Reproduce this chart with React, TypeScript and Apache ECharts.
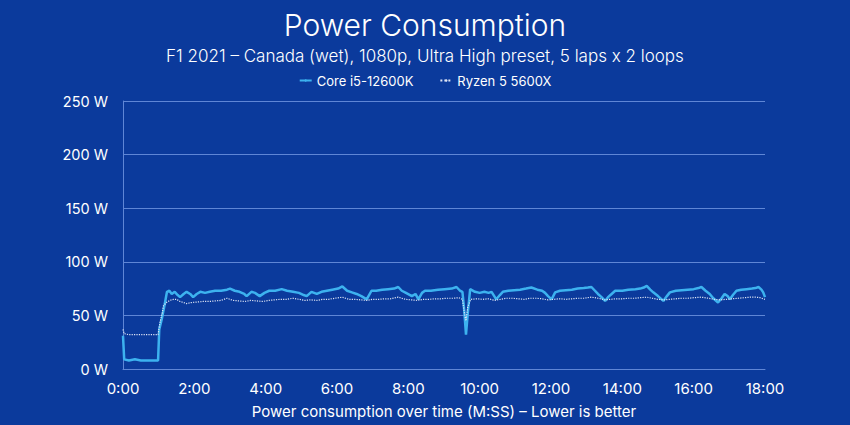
import React, { useEffect, useRef } from "react";
import * as echarts from "echarts";

const titleText = "Power Consumption";
const subtitleText = "F1 2021 – Canada (wet), 1080p, Ultra High preset, 5 laps x 2 loops";
const xAxisName = "Power consumption over time (M:SS) – Lower is better";
const seriesNames = ["Core i5-12600K", "Ryzen 5 5600X"];

// [seconds, watts]
const coreData: [number, number][] = [
  [0, 31], [2, 9], [10, 8], [20, 9], [30, 8], [45, 8], [59, 8], [61, 37], [65, 46], [70, 60],
  [74, 72], [78, 73], [82, 70], [87, 72], [92, 69], [96, 67], [102, 70], [107, 72], [113, 70], [118, 67],
  [124, 70], [130, 72], [138, 71], [146, 72], [155, 73], [165, 73], [175, 74], [180, 75], [188, 73], [196, 72],
  [204, 70], [208, 68], [216, 72], [222, 71], [230, 68], [238, 71], [246, 73], [256, 73], [267, 74.5], [276, 73],
  [286, 72], [296, 71], [304, 69], [309, 68], [317, 72], [326, 70], [334, 72], [343, 73], [352, 74], [362, 75],
  [369, 77], [377, 73], [385, 71.5], [393, 70], [401, 68], [410, 65], [418, 73], [426, 73], [436, 74], [446, 74.5],
  [456, 75], [463, 76.5], [469, 73], [476, 71], [486, 68], [492, 70], [497, 65], [503, 71], [508, 73], [518, 73],
  [530, 74], [541, 74.5], [553, 75], [561, 76.5], [567, 73], [571, 72], [574, 55], [577, 32], [580, 52], [584, 74.5],
  [592, 72], [600, 71], [608, 72], [615, 71], [620, 72], [628, 65], [634, 69], [639, 72], [648, 73], [658, 73.5],
  [668, 74], [678, 75], [687, 76], [697, 74], [705, 73], [710, 71], [715, 68], [721, 65], [727, 71.5], [735, 73],
  [745, 73.5], [755, 74], [765, 75], [775, 75.5], [782, 76], [788, 76.5], [794, 73], [799, 70], [805, 67], [811, 63.5],
  [816, 67], [822, 70], [828, 73], [840, 73], [850, 74], [862, 74.5], [870, 75], [876, 76], [881, 77.5], [887, 74],
  [892, 71.5], [900, 68], [909, 63.5], [915, 68], [920, 71.5], [930, 73], [940, 73.5], [950, 74], [960, 74.5], [968, 75.5],
  [973, 76.5], [980, 73], [987, 70], [993, 66], [1001, 62], [1007, 66], [1012, 70], [1017, 68], [1021, 65], [1026, 69],
  [1032, 73], [1040, 74], [1049, 74.5], [1058, 75], [1064, 75.5], [1069, 76.5], [1074, 74], [1077, 71.5], [1080, 67],
];

const ryzenData: [number, number][] = [
  [0, 37], [2, 33], [10, 32], [30, 32], [45, 32], [59, 32], [62, 43], [66, 52], [68, 59], [73, 62],
  [79, 64], [85, 65], [90, 65], [96, 63], [102, 62], [107, 61], [115, 62], [125, 62.5], [135, 63], [145, 63],
  [155, 63.5], [165, 64], [175, 66], [185, 64], [195, 63.5], [205, 63], [215, 64], [225, 63.5], [235, 63], [245, 64],
  [255, 64.5], [265, 65], [276, 65], [286, 66], [296, 65], [306, 64], [316, 64.5], [326, 64], [336, 65], [346, 65],
  [356, 66], [369, 67], [380, 65], [390, 65], [400, 64.5], [410, 64], [420, 65], [430, 65], [440, 65.5], [450, 65.5],
  [463, 67], [475, 65], [485, 64.5], [495, 64], [505, 65], [515, 65], [525, 65.5], [535, 65.5], [545, 66], [555, 66],
  [565, 66.5], [571, 65], [575, 50], [577, 45], [580, 58], [585, 65], [595, 65.5], [605, 65], [615, 65.5], [625, 64],
  [635, 65], [645, 66], [655, 66], [665, 65.5], [675, 65], [685, 66], [695, 66], [705, 65.5], [715, 64.5], [725, 65],
  [735, 65.5], [745, 65], [755, 65.5], [765, 66], [775, 66], [788, 67], [800, 66], [810, 64.5], [820, 65], [830, 65.5],
  [840, 65.5], [850, 66], [860, 66], [870, 66.5], [881, 67], [890, 66], [900, 65], [910, 64.5], [920, 65], [930, 65.5],
  [940, 66], [950, 66], [960, 66.5], [973, 67], [985, 66], [995, 65], [1005, 64.5], [1015, 65], [1025, 65.5], [1035, 66],
  [1045, 66.5], [1055, 67], [1065, 67], [1072, 66.5], [1080, 65],
];

const FONT = "Inter, 'Noto Sans', sans-serif";

export default function App() {
  const ref = useRef<HTMLDivElement>(null);
  useEffect(() => {
    if (!ref.current) return;
    document.body.style.margin = "0";
    const chart = echarts.init(ref.current, null, { renderer: "svg" });
    chart.setOption({
      animation: false,
      backgroundColor: "#0b3a9c",
      textStyle: { fontFamily: FONT },
      title: [
        {
          text: titleText,
          left: "center",
          top: 5,
          textStyle: { color: "#ffffff", fontSize: 30, fontWeight: 300, fontFamily: FONT },
        },
        {
          text: subtitleText,
          left: "center",
          top: 42,
          textStyle: { color: "#ffffff", fontSize: 17, fontWeight: 300, fontFamily: FONT },
        },
      ],
      legend: {
        top: 69,
        left: "center",
        itemWidth: 12,
        itemHeight: 3,
        itemGap: 26,
        textStyle: { color: "#ffffff", fontSize: 13, fontFamily: FONT },
        data: seriesNames,
      },
      grid: { left: 123, right: 85, top: 101, bottom: 56, containLabel: false },
      xAxis: {
        type: "value",
        min: 0,
        max: 1080,
        interval: 120,
        name: xAxisName,
        nameLocation: "middle",
        nameGap: 35,
        nameTextStyle: { color: "#ffffff", fontSize: 15, fontFamily: FONT },
        axisLine: { show: true, lineStyle: { color: "#5f86d6", width: 1 } },
        axisTick: { show: false },
        splitLine: { show: false },
        axisLabel: {
          color: "#ffffff",
          fontSize: 15,
          margin: 12,
          fontFamily: FONT,
          formatter: (v: number) => {
            const m = Math.floor(v / 60);
            const s = Math.round(v % 60);
            return m + ":" + (s < 10 ? "0" + s : s);
          },
        },
      },
      yAxis: {
        type: "value",
        min: 0,
        max: 250,
        interval: 50,
        axisLine: { show: true, lineStyle: { color: "#5f86d6", width: 1 } },
        axisTick: { show: false },
        splitLine: { show: true, lineStyle: { color: "#5f86d6", width: 1 } },
        axisLabel: {
          color: "#ffffff",
          fontSize: 14.5,
          margin: 15,
          fontFamily: FONT,
          formatter: "{value} W",
        },
      },
      series: [
        {
          name: seriesNames[0],
          type: "line",
          data: coreData,
          symbol: "none",
          z: 2,
          lineStyle: { color: "#3db2ef", width: 2.5 },
          itemStyle: { color: "#3db2ef" },
        },
        {
          name: seriesNames[1],
          type: "line",
          data: ryzenData,
          symbol: "none",
          z: 3,
          lineStyle: { color: "#dfe5f5", width: 1.2, type: "dotted" },
          itemStyle: { color: "#dfe5f5" },
        },
      ],
    });
    return () => chart.dispose();
  }, []);
  return <div ref={ref} style={{ width: 850, height: 425, position: "absolute", left: 0, top: 0 }} />;
}
